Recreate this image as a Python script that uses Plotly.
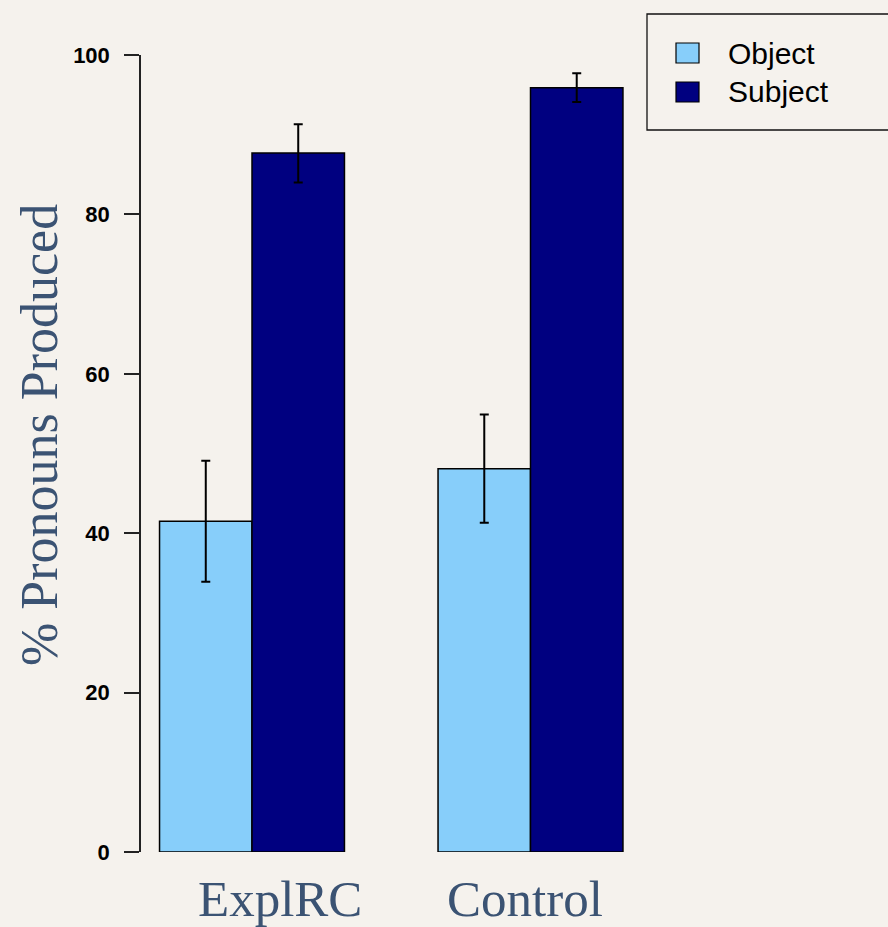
import plotly.graph_objects as go

categories = ["ExplRC", "Control"]
series_names = ["Object", "Subject"]
object_vals = [41.5, 48.1]
object_err_plus = [7.6, 6.8]
object_err_minus = [7.6, 6.8]
subject_vals = [87.7, 95.9]
subject_err_plus = [3.6, 1.8]
subject_err_minus = [3.7, 1.8]
y_ticks = [0, 20, 40, 60, 80, 100]
y_title = "% Pronouns Produced"

colors = ["#87CEFA", "#000080"]
W, H = 888, 927
L, R, T, B = 141, 645, 55, 852  # plot area in px


def px_x(p):
    return (p - L) / (R - L)


def px_y(p):
    return (B - p) / (B - T)


fig = go.Figure()
vals = [object_vals, subject_vals]
eplus = [object_err_plus, subject_err_plus]
eminus = [object_err_minus, subject_err_minus]
for i, name in enumerate(series_names):
    fig.add_trace(go.Bar(
        x=categories, y=vals[i], name=name,
        marker=dict(color=colors[i], line=dict(color="black", width=1.5)),
        error_y=dict(type="data", array=eplus[i], arrayminus=eminus[i],
                     color="black", thickness=2, width=4.5),
        showlegend=False,
    ))

cat_px = 278.5
x0 = (L - 252) / cat_px
x1 = (R - 252) / cat_px
fig.update_layout(
    width=W, height=H,
    margin=dict(l=L, r=W - R, t=T, b=H - B, pad=0),
    paper_bgcolor="#f5f2ed", plot_bgcolor="#f5f2ed",
    barmode="group", bargap=0.336, bargroupgap=0,
    xaxis=dict(range=[x0, x1], showticklabels=False, showline=False,
               showgrid=False, zeroline=False, ticks=""),
    yaxis=dict(range=[0, 100], tickvals=y_ticks, showgrid=False, zeroline=False,
               showline=True, linecolor="#222", linewidth=1.5,
               ticks="outside", ticklen=15, tickwidth=1.5, tickcolor="#222",
               ticklabelstandoff=10,
               tickfont=dict(family="Liberation Sans, Arial", size=22,
                             color="black", weight="bold")),
    font=dict(family="Liberation Serif"),
)

serif = dict(family="Liberation Serif, Times New Roman, serif", size=51, color="#3b5373")
annotations = []
label_px = [280, 525]
for c, p in zip(categories, label_px):
    annotations.append(dict(text=c, x=px_x(p), y=px_y(869), xref="paper", yref="paper",
                            xanchor="center", yanchor="top", showarrow=False, font=serif))
annotations.append(dict(text=y_title, x=px_x(40), y=px_y(435), xref="paper", yref="paper",
                        xanchor="center", yanchor="middle", textangle=-90,
                        showarrow=False, font=dict(serif, size=52)))

# legend box
shapes = [dict(type="rect", xref="paper", yref="paper",
               x0=px_x(647), x1=px_x(905), y0=px_y(130), y1=px_y(14),
               line=dict(color="#111", width=1.3), fillcolor="rgba(0,0,0,0)")]
row_y = [53, 92]
for i, name in enumerate(series_names):
    cy = row_y[i]
    shapes.append(dict(type="rect", xref="paper", yref="paper",
                       x0=px_x(676), x1=px_x(699), y0=px_y(cy + 10), y1=px_y(cy - 10),
                       line=dict(color="black", width=1.2), fillcolor=colors[i]))
    annotations.append(dict(text=name, x=px_x(726), y=px_y(cy), xref="paper", yref="paper",
                            xanchor="left", yanchor="middle", showarrow=False,
                            font=dict(family="Liberation Sans, Arial", size=30, color="black")))

fig.update_layout(annotations=annotations, shapes=shapes)
fig.write_html("out.html", config={"displayModeBar": False},
               post_script="document.body.style.margin='0';document.body.style.overflow='hidden';")
